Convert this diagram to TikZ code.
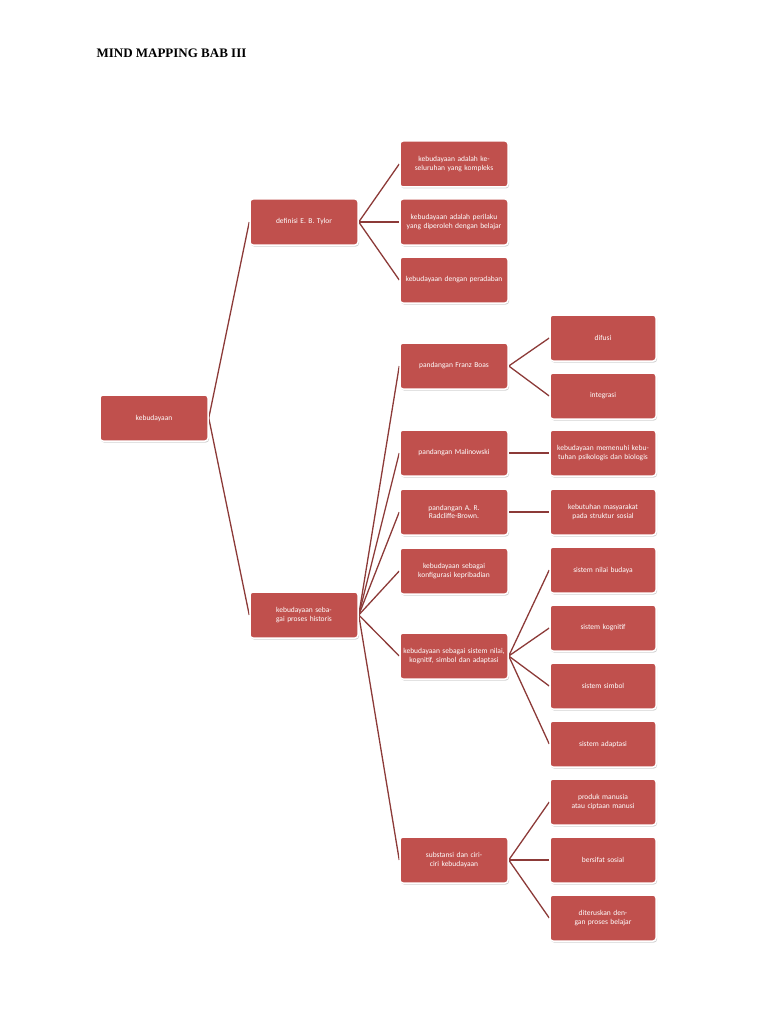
\documentclass[tikz,border=0pt]{standalone}
\usepackage{fontspec}
\usetikzlibrary{shadows,backgrounds}
\setmainfont{Liberation Serif}
\newfontfamily\calfont{Carlito}
\begin{document}
\begin{tikzpicture}[x=1pt,y=-1pt,
 box/.style={draw=white,line width=1.5pt,fill=boxred,rounded corners=3pt,minimum width=#1,minimum height=46pt,text width=#1-6pt,align=center,font=\calfont\fontsize{7.5}{8.5}\selectfont,text=white,inner sep=2pt,drop shadow={opacity=0.35,shadow xshift=1pt,shadow yshift=-1.5pt}},
 box/.default=108pt,
 cn/.style={draw=linered,line width=1.3pt}]
\definecolor{boxred}{HTML}{C0504D}
\definecolor{linered}{HTML}{8C3A38}
\useasboundingbox (0,0) rectangle (768,1024);
\node[anchor=west,font=\bfseries\fontsize{13}{15}\selectfont] (title) at (93,53) {MIND MAPPING BAB III};
\node[box] (k) at (154,418) {kebudayaan};
\node[box] (t) at (304,222) {definisi E. B. Tylor};
\node[box] (p) at (304,615) {kebudayaan sebagai proses historis};
\node[box] (t1) at (454,164) {kebudayaan adalah keseluruhan yang kompleks};
\node[box] (t2) at (454,222) {kebudayaan adalah perilaku yang diperoleh dengan belajar};
\node[box] (t3) at (454,280) {kebudayaan dengan peradaban};
\node[box] (a) at (454,366) {pandangan Franz Boas};
\node[box] (b) at (454,453) {pandangan Malinowski};
\node[box] (c) at (454,512) {pandangan A. R. Radcliffe-Brown.};
\node[box] (d) at (454,571) {kebudayaan sebagai konfigurasi kepribadian};
\node[box] (e) at (454,656) {kebudayaan sebagai sistem nilai, kognitif, simbol dan adaptasi};
\node[box] (f) at (454,860) {substansi dan ciri-ciri kebudayaan};
\node[box=106pt] (a1) at (603,338) {difusi};
\node[box=106pt] (a2) at (603,396) {integrasi};
\node[box=106pt] (b1) at (603,453) {kebudayaan memenuhi kebutuhan psikologis dan biologis};
\node[box=106pt] (c1) at (603,512) {kebutuhan masyarakat pada struktur sosial};
\node[box=106pt] (e1) at (603,570) {sistem nilai budaya};
\node[box=106pt] (e2) at (603,628) {sistem kognitif};
\node[box=106pt] (e3) at (603,686) {sistem simbol};
\node[box=106pt] (e4) at (603,744) {sistem adaptasi};
\node[box=106pt] (f1) at (603,802) {produk manusia atau ciptaan manusi};
\node[box=106pt] (f2) at (603,860) {bersifat sosial};
\node[box=106pt] (f3) at (603,918) {diteruskan dengan proses belajar};
\begin{scope}[on background layer]
\foreach \s/\d in {k/t,k/p,t/t1,t/t2,t/t3,p/a,p/b,p/c,p/d,p/e,p/f,a/a1,a/a2,b/b1,c/c1,e/e1,e/e2,e/e3,e/e4,f/f1,f/f2,f/f3}
 \draw[cn] (\s.east) -- (\d.west);
\end{scope}
\end{tikzpicture}
\end{document}
